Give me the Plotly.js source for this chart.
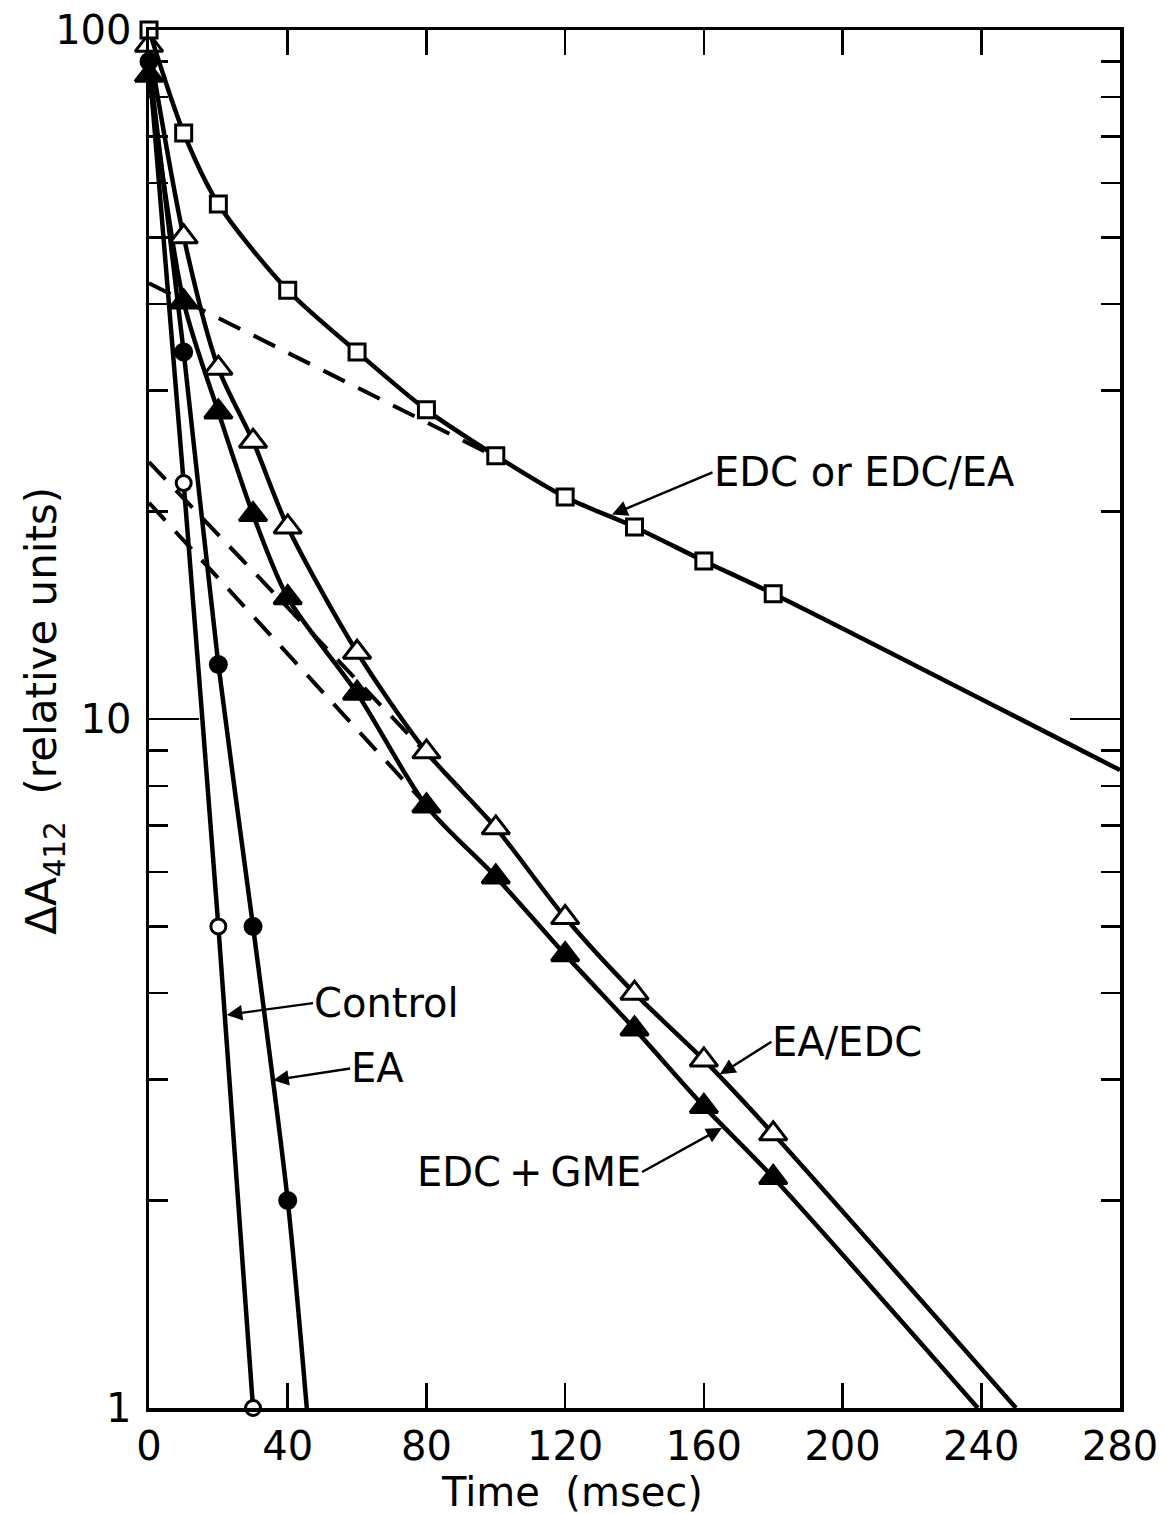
<!DOCTYPE html>
<html>
<head>
<meta charset="utf-8">
<script src="https://cdn.plot.ly/plotly-3.0.1.min.js"></script>
<style>
  html, body { margin: 0; padding: 0; background: #fff; }
  #chart { width: 1166px; height: 1514px; }
</style>
</head>
<body>
<div id="chart"></div>
<script>
// Decay of the 412 nm absorbance change (relative units) vs. time (msec)

// EDC or EDC/EA (open squares)
const edcTime  = [0, 10, 20, 40, 60, 80, 100, 120, 140, 160, 180];
const edcValue = [100, 70.9, 55.9, 41.9, 34.1, 28.1, 24.1, 21.0, 19.0, 16.96, 15.2];
const edcCurveEnd = [280, 8.43];
const edcFitTime  = [0, 100];
const edcFitValue = [42.9, 24.0];

// EA/EDC (open triangles)
const eaEdcTime  = [0, 10, 20, 30, 40, 60, 80, 100, 120, 140, 160, 180];
const eaEdcValue = [95, 50.1, 32.3, 25.3, 19.0, 12.5, 8.96, 6.95, 5.15, 4.0, 3.2, 2.5];
const eaEdcCurveEnd = [250, 1];
const eaEdcFitTime  = [0, 90];
const eaEdcFitValue = [23.6, 7.9];

// EDC + GME (filled triangles)
const gmeTime  = [0, 10, 20, 30, 40, 60, 80, 100, 120, 140, 160, 180];
const gmeValue = [86, 40.3, 27.9, 19.8, 15.0, 10.9, 7.48, 5.9, 4.55, 3.55, 2.74, 2.16];
const gmeCurveEnd = [239, 1];
const gmeFitTime  = [0, 80];
const gmeFitValue = [20.6, 7.5];

// EA (filled circles)
const eaTime  = [0, 10, 20, 30, 40];
const eaValue = [90, 34.1, 12.0, 5.0, 2.0];
const eaCurveEnd = [45.5, 1];

// Control (open circles)
const ctrlTime  = [0, 10, 20, 30];
const ctrlValue = [90, 22.0, 5.0, 1.0];

// Axis ticks
const xTicks = [0, 40, 80, 120, 160, 200, 240, 280];
const yMajorTicks = [1, 10, 100];
const yMajorText  = ['1', '10', '100'];
const yMinorTicks = [2, 3, 4, 5, 6, 7, 8, 9, 20, 30, 40, 50, 60, 70, 80, 90];

const FONT = 'DejaVu Sans, Liberation Sans, sans-serif';
const INK = '#000';

function curve(t, v, end, symbol, fill, size) {
  const x = end ? t.concat([end[0]]) : t.slice();
  const y = end ? v.concat([end[1]]) : v.slice();
  const sizes = x.map((_, i) => (end && i === x.length - 1) ? 0 : size);
  return {
    x: x, y: y, type: 'scatter', mode: 'lines+markers',
    line: { color: INK, width: 4.5, shape: 'spline', smoothing: 0.8 },
    marker: { symbol: symbol, size: sizes, color: fill, opacity: 1,
              line: { color: INK, width: 3 } },
    cliponaxis: false, showlegend: false, hoverinfo: 'skip'
  };
}

function fitLine(t, v) {
  return {
    x: t, y: v, type: 'scatter', mode: 'lines',
    line: { color: INK, width: 4, dash: '24px,15px' },
    showlegend: false, hoverinfo: 'skip'
  };
}

const traces = [
  fitLine(edcFitTime, edcFitValue),
  fitLine(eaEdcFitTime, eaEdcFitValue),
  fitLine(gmeFitTime, gmeFitValue),
  curve(ctrlTime, ctrlValue, null, 'circle', '#fff', 15),
  curve(eaTime, eaValue, eaCurveEnd, 'circle', INK, 16),
  curve(gmeTime, gmeValue, gmeCurveEnd, 'triangle-up', INK, 24),
  curve(eaEdcTime, eaEdcValue, eaEdcCurveEnd, 'triangle-up', '#fff', 24),
  curve(edcTime, edcValue, edcCurveEnd, 'square', '#fff', 16)
];

// Curve label with a pointer: the text sits at the arrow tail, the head touches the curve
function pointer(text, anchor, tailX, tailY, headX, headY) {
  return { text: text, x: headX, y: Math.log10(headY), xref: 'x', yref: 'y',
           ax: tailX, ay: Math.log10(tailY), axref: 'x', ayref: 'y',
           xanchor: anchor, yanchor: 'middle',
           showarrow: true, arrowhead: 2, arrowsize: 1.3, arrowwidth: 2.4,
           arrowcolor: INK, standoff: 0, startstandoff: 0, borderpad: 0,
           font: { family: FONT, size: 40, color: INK } };
}

const annotations = [
  pointer('EDC or EDC/EA', 'left', 162.5, 22.8, 133.5, 19.8),
  pointer('Control', 'left', 47.3, 3.87, 22.4, 3.72),
  pointer('EA', 'left', 58.0, 3.11, 35.8, 2.99),
  pointer('EA/EDC', 'left', 179.5, 3.40, 164.6, 3.05),
  pointer('EDC\u2009+\u2009GME', 'right', 142.2, 2.20, 165.2, 2.55),
  { text: 'Time\u00A0\u00A0(msec)', xref: 'paper', yref: 'paper',
    x: 0.4356, y: -0.061, xanchor: 'center', yanchor: 'middle', showarrow: false,
    font: { family: FONT, size: 40, color: INK } },
  { text: '\u0394A<sub>412</sub>\u00A0\u00A0(relative units)', xref: 'paper', yref: 'paper',
    x: -0.107, y: 0.506, xanchor: 'center', yanchor: 'middle', textangle: -90,
    showarrow: false, font: { family: FONT, size: 42, color: INK } }
];

const layout = {
  width: 1166, height: 1514,
  margin: { l: 149, r: 46, t: 30, b: 106 },
  paper_bgcolor: '#fff', plot_bgcolor: '#fff',
  showlegend: false,
  xaxis: {
    range: [0, 280], tickmode: 'array', tickvals: xTicks,
    ticks: 'inside', ticklen: 25, tickwidth: 2.5, tickcolor: INK,
    showline: true, linewidth: 3.5, linecolor: INK, mirror: 'ticks',
    showgrid: false, zeroline: false,
    tickfont: { family: FONT, size: 40, color: INK }, ticklabelstandoff: 0
  },
  yaxis: {
    type: 'log', range: [0, 2], tickmode: 'array',
    tickvals: yMajorTicks, ticktext: yMajorText,
    ticks: 'inside', ticklen: 50, tickwidth: 2.5, tickcolor: INK,
    showline: true, linewidth: 3.5, linecolor: INK, mirror: 'ticks',
    showgrid: false, zeroline: false,
    minor: { tickmode: 'array', tickvals: yMinorTicks, ticks: 'inside',
             ticklen: 19, tickwidth: 2.5, tickcolor: INK, showgrid: false },
    tickfont: { family: FONT, size: 40, color: INK }, ticklabelstandoff: 6
  },
  annotations: annotations
};

Plotly.newPlot('chart', traces, layout, { staticPlot: true });
</script>
</body>
</html>
